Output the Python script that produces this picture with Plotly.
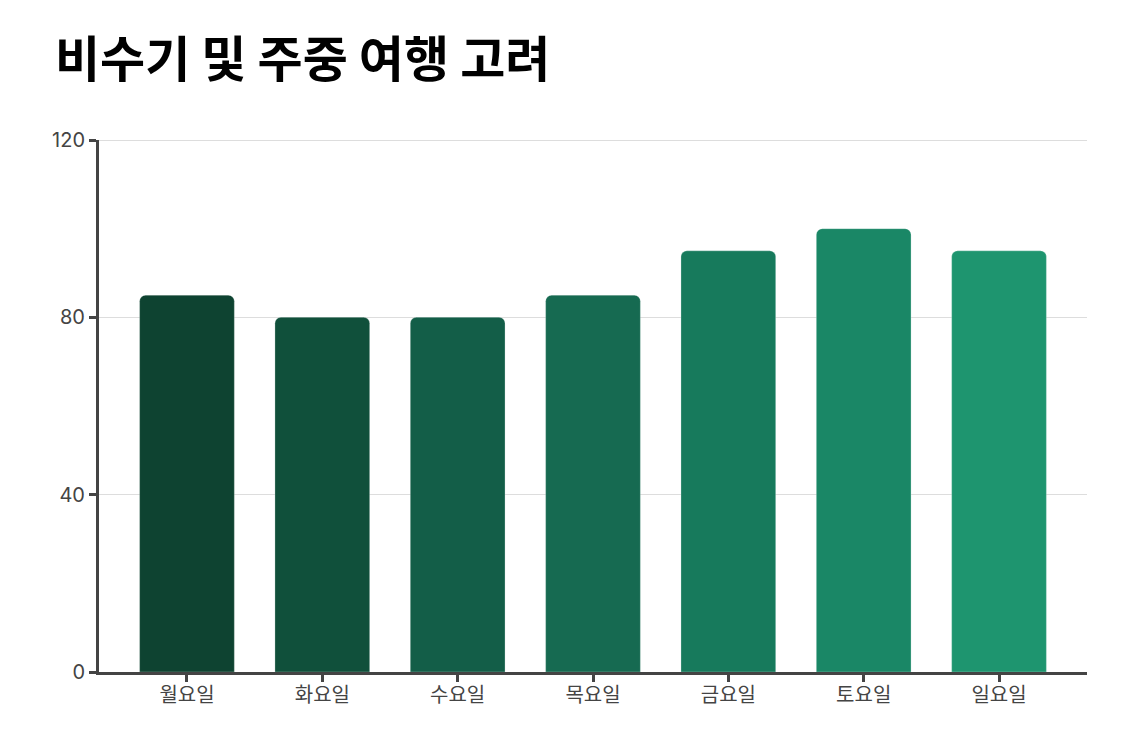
import plotly.graph_objects as go

days = ["월요일", "화요일", "수요일", "목요일", "금요일", "토요일", "일요일"]
values = [85, 80, 80, 85, 95, 100, 95]
colors = ["#0e4331", "#10503b", "#135e48", "#166a51", "#177a5c", "#1a8766", "#1e956f"]
y_ticks = [0, 40, 80, 120]

fig = go.Figure()
fig.add_trace(go.Bar(
    x=days,
    y=values,
    marker=dict(color=colors, cornerradius=6,
                line=dict(color="rgba(255,255,255,0.25)", width=1)),
    hoverinfo="x+y",
))

# page body adds an 8px margin, so the figure is a little smaller than the window
fig.update_layout(
    width=1115, height=717,
    paper_bgcolor="white", plot_bgcolor="white",
    margin=dict(l=91, r=36, t=132, b=53),
    bargap=0.3,
    showlegend=False,
    title=dict(text="<b>비수기 및 주중 여행 고려</b>", x=47 / 1115, xref="container",
               xanchor="left", y=1 - 52 / 717, yref="container", yanchor="middle",
               font=dict(family="Noto Sans CJK KR", size=49, color="#000000")),
    font=dict(family="Inter, Noto Sans CJK KR", size=20, color="#444444"),
)
# top gridline sits on the plot edge, plotly skips it
fig.add_shape(type="line", xref="paper", yref="y", x0=0, x1=1,
              y0=y_ticks[-1], y1=y_ticks[-1], layer="below",
              line=dict(color="#dddddd", width=2))
fig.update_xaxes(
    range=[-0.65, len(days) - 0.35],
    showline=True, linecolor="#444444", linewidth=3,
    ticks="outside", ticklen=7, tickwidth=3, tickcolor="#444444",
    ticklabelstandoff=-4,
    tickfont=dict(family="Noto Sans CJK KR", size=20, color="#444444"),
    showgrid=False,
)
fig.update_yaxes(
    range=[0, 120], tickvals=y_ticks,
    showline=True, linecolor="#444444", linewidth=3,
    ticks="outside", ticklen=7, tickwidth=3, tickcolor="#444444",
    showgrid=True, gridcolor="#dddddd", gridwidth=1,
    zeroline=False,
    tickfont=dict(family="Inter", size=20, color="#444444"),
)

fig.write_html("out.html")
